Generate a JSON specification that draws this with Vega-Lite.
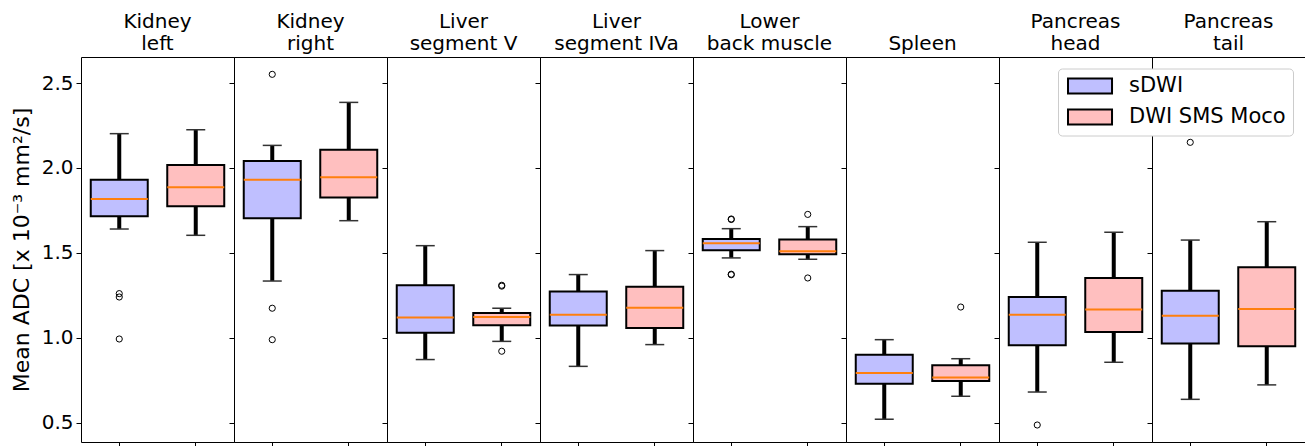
{
  "$schema": "https://vega.github.io/schema/vega-lite/v6.json",
  "padding": {"left": 9, "top": 11, "right": 0, "bottom": 0},
  "bounds": "flush",
  "spacing": 0,
  "background": "white",
  "config": {
    "font": "DejaVu Sans",
    "view": {"stroke": "black", "strokeWidth": 1},
    "title": {"fontSize": 20, "font": "DejaVu Sans", "fontWeight": "normal", "color": "black", "lineHeight": 22, "offset": 3, "anchor": "middle", "baseline": "bottom", "frame": "group"},
    "axisX": {"labels": false, "title": null, "domain": false, "ticks": true, "tickSize": 4, "tickColor": "black"},
    "axisY": {"grid": false, "domain": false, "tickColor": "black", "tickSize": 5, "labelFontSize": 20, "titleFontSize": 22, "labelColor": "black", "titleColor": "black", "titleFontWeight": "normal", "titlePadding": 8, "labelPadding": 3, "labelFont": "DejaVu Sans", "titleFont": "DejaVu Sans"},
    "legend": {
      "orient": "none",
      "legendX": 977,
      "legendY": 11.5,
      "fillColor": "white",
      "strokeColor": "#cccccc",
      "cornerRadius": 4,
      "padding": 7,
      "labelFontSize": 21,
      "labelFont": "DejaVu Sans",
      "labelColor": "black",
      "symbolType": "M-1,-1H4.87V1H-1Z",
      "symbolSize": 225,
      "symbolStrokeColor": "black",
      "symbolStrokeWidth": 2,
      "symbolOpacity": 1,
      "rowPadding": 8,
      "labelOffset": 43
    }
  },
  "data": {
    "values": [
      {"organ": "Kidney left", "method": "sDWI", "lo": 1.641, "q1": 1.716, "med": 1.818, "q3": 1.931, "hi": 2.202},
      {"organ": "Kidney left", "method": "DWI SMS Moco", "lo": 1.604, "q1": 1.775, "med": 1.886, "q3": 2.018, "hi": 2.225},
      {"organ": "Kidney right", "method": "sDWI", "lo": 1.335, "q1": 1.704, "med": 1.931, "q3": 2.041, "hi": 2.133},
      {"organ": "Kidney right", "method": "DWI SMS Moco", "lo": 1.690, "q1": 1.827, "med": 1.945, "q3": 2.108, "hi": 2.386},
      {"organ": "Liver segment V", "method": "sDWI", "lo": 0.873, "q1": 1.031, "med": 1.120, "q3": 1.310, "hi": 1.543},
      {"organ": "Liver segment V", "method": "DWI SMS Moco", "lo": 0.980, "q1": 1.075, "med": 1.124, "q3": 1.147, "hi": 1.175},
      {"organ": "Liver segment IVa", "method": "sDWI", "lo": 0.833, "q1": 1.073, "med": 1.137, "q3": 1.273, "hi": 1.373},
      {"organ": "Liver segment IVa", "method": "DWI SMS Moco", "lo": 0.961, "q1": 1.059, "med": 1.178, "q3": 1.302, "hi": 1.514},
      {"organ": "Lower back muscle", "method": "sDWI", "lo": 1.471, "q1": 1.516, "med": 1.557, "q3": 1.582, "hi": 1.643},
      {"organ": "Lower back muscle", "method": "DWI SMS Moco", "lo": 1.463, "q1": 1.492, "med": 1.510, "q3": 1.580, "hi": 1.655},
      {"organ": "Spleen", "method": "sDWI", "lo": 0.522, "q1": 0.731, "med": 0.794, "q3": 0.902, "hi": 0.990},
      {"organ": "Spleen", "method": "DWI SMS Moco", "lo": 0.657, "q1": 0.747, "med": 0.767, "q3": 0.839, "hi": 0.878},
      {"organ": "Pancreas head", "method": "sDWI", "lo": 0.682, "q1": 0.957, "med": 1.137, "q3": 1.241, "hi": 1.563},
      {"organ": "Pancreas head", "method": "DWI SMS Moco", "lo": 0.857, "q1": 1.035, "med": 1.167, "q3": 1.353, "hi": 1.622},
      {"organ": "Pancreas tail", "method": "sDWI", "lo": 0.639, "q1": 0.967, "med": 1.131, "q3": 1.278, "hi": 1.576},
      {"organ": "Pancreas tail", "method": "DWI SMS Moco", "lo": 0.724, "q1": 0.951, "med": 1.171, "q3": 1.416, "hi": 1.684},
      {"organ": "Kidney left", "method": "sDWI", "out": 1.261},
      {"organ": "Kidney left", "method": "sDWI", "out": 1.241},
      {"organ": "Kidney left", "method": "sDWI", "out": 0.994},
      {"organ": "Kidney right", "method": "sDWI", "out": 2.551},
      {"organ": "Kidney right", "method": "sDWI", "out": 1.175},
      {"organ": "Kidney right", "method": "sDWI", "out": 0.990},
      {"organ": "Liver segment V", "method": "DWI SMS Moco", "out": 1.310},
      {"organ": "Liver segment V", "method": "DWI SMS Moco", "out": 1.305},
      {"organ": "Liver segment V", "method": "DWI SMS Moco", "out": 0.922},
      {"organ": "Lower back muscle", "method": "sDWI", "out": 1.700},
      {"organ": "Lower back muscle", "method": "sDWI", "out": 1.697},
      {"organ": "Lower back muscle", "method": "sDWI", "out": 1.375},
      {"organ": "Lower back muscle", "method": "sDWI", "out": 1.372},
      {"organ": "Lower back muscle", "method": "DWI SMS Moco", "out": 1.727},
      {"organ": "Lower back muscle", "method": "DWI SMS Moco", "out": 1.353},
      {"organ": "Spleen", "method": "DWI SMS Moco", "out": 1.182},
      {"organ": "Pancreas head", "method": "sDWI", "out": 0.488},
      {"organ": "Pancreas tail", "method": "sDWI", "out": 2.151}
    ]
  },
  "resolve": {"scale": {"fill": "shared"}, "legend": {"fill": "shared"}},
  "hconcat": [
    {
      "width": 153, "height": 385,
      "title": {"text": ["Kidney", "left"]},
      "transform": [{"filter": "datum.organ == 'Kidney left'"}],
      "encoding": {"x": {"field": "method", "type": "nominal", "scale": {"domain": ["sDWI", "DWI SMS Moco"], "paddingInner": 0.255, "paddingOuter": 0.1275}}},
      "layer": [
        {"transform": [{"filter": "isValid(datum.q1)"}], "mark": {"type": "rule", "color": "black", "strokeWidth": 4}, "encoding": {"y": {"field": "lo", "type": "quantitative", "scale": {"domain": [0.388, 2.653], "nice": false, "zero": false}, "axis": {"values": [0.5, 1, 1.5, 2, 2.5], "format": ".1f", "title": "Mean ADC [x 10⁻³ mm²/s]"}}, "y2": {"field": "hi"}}},
        {"transform": [{"filter": "isValid(datum.q1)"}], "mark": {"type": "bar", "stroke": "black", "strokeWidth": 2, "opacity": 1}, "encoding": {"y": {"field": "q1", "type": "quantitative"}, "y2": {"field": "q3"}, "fill": {"field": "method", "type": "nominal", "scale": {"domain": ["sDWI", "DWI SMS Moco"], "range": ["#bfbfff", "#ffbfbf"]}, "legend": {"title": null}}}},
        {"transform": [{"filter": "isValid(datum.q1)"}], "mark": {"type": "tick", "orient": "horizontal", "color": "#ff7f0e", "size": 57, "thickness": 2, "opacity": 1}, "encoding": {"y": {"field": "med", "type": "quantitative"}}},
        {"transform": [{"filter": "isValid(datum.q1)"}, {"fold": ["lo", "hi"], "as": ["cap", "capv"]}], "mark": {"type": "tick", "orient": "horizontal", "color": "#333333", "size": 19, "thickness": 1.5, "opacity": 1}, "encoding": {"y": {"field": "capv", "type": "quantitative"}}},
        {"transform": [{"filter": "isValid(datum.out)"}], "mark": {"type": "point", "shape": "circle", "filled": false, "stroke": "black", "strokeWidth": 1, "size": 38, "opacity": 1}, "encoding": {"y": {"field": "out", "type": "quantitative"}}}
      ]
    },
    {
      "width": 153, "height": 385,
      "title": {"text": ["Kidney", "right"]},
      "transform": [{"filter": "datum.organ == 'Kidney right'"}],
      "encoding": {"x": {"field": "method", "type": "nominal", "scale": {"domain": ["sDWI", "DWI SMS Moco"], "paddingInner": 0.255, "paddingOuter": 0.1275}}},
      "layer": [
        {"transform": [{"filter": "isValid(datum.q1)"}], "mark": {"type": "rule", "color": "black", "strokeWidth": 4}, "encoding": {"y": {"field": "lo", "type": "quantitative", "scale": {"domain": [0.388, 2.653], "nice": false, "zero": false}, "axis": {"values": [0.5, 1, 1.5, 2, 2.5], "labels": false, "title": null}}, "y2": {"field": "hi"}}},
        {"transform": [{"filter": "isValid(datum.q1)"}], "mark": {"type": "bar", "stroke": "black", "strokeWidth": 2, "opacity": 1}, "encoding": {"y": {"field": "q1", "type": "quantitative"}, "y2": {"field": "q3"}, "fill": {"field": "method", "type": "nominal", "scale": {"domain": ["sDWI", "DWI SMS Moco"], "range": ["#bfbfff", "#ffbfbf"]}, "legend": {"title": null}}}},
        {"transform": [{"filter": "isValid(datum.q1)"}], "mark": {"type": "tick", "orient": "horizontal", "color": "#ff7f0e", "size": 57, "thickness": 2, "opacity": 1}, "encoding": {"y": {"field": "med", "type": "quantitative"}}},
        {"transform": [{"filter": "isValid(datum.q1)"}, {"fold": ["lo", "hi"], "as": ["cap", "capv"]}], "mark": {"type": "tick", "orient": "horizontal", "color": "#333333", "size": 19, "thickness": 1.5, "opacity": 1}, "encoding": {"y": {"field": "capv", "type": "quantitative"}}},
        {"transform": [{"filter": "isValid(datum.out)"}], "mark": {"type": "point", "shape": "circle", "filled": false, "stroke": "black", "strokeWidth": 1, "size": 38, "opacity": 1}, "encoding": {"y": {"field": "out", "type": "quantitative"}}}
      ]
    },
    {
      "width": 153, "height": 385,
      "title": {"text": ["Liver", "segment V"]},
      "transform": [{"filter": "datum.organ == 'Liver segment V'"}],
      "encoding": {"x": {"field": "method", "type": "nominal", "scale": {"domain": ["sDWI", "DWI SMS Moco"], "paddingInner": 0.255, "paddingOuter": 0.1275}}},
      "layer": [
        {"transform": [{"filter": "isValid(datum.q1)"}], "mark": {"type": "rule", "color": "black", "strokeWidth": 4}, "encoding": {"y": {"field": "lo", "type": "quantitative", "scale": {"domain": [0.388, 2.653], "nice": false, "zero": false}, "axis": {"values": [0.5, 1, 1.5, 2, 2.5], "labels": false, "title": null}}, "y2": {"field": "hi"}}},
        {"transform": [{"filter": "isValid(datum.q1)"}], "mark": {"type": "bar", "stroke": "black", "strokeWidth": 2, "opacity": 1}, "encoding": {"y": {"field": "q1", "type": "quantitative"}, "y2": {"field": "q3"}, "fill": {"field": "method", "type": "nominal", "scale": {"domain": ["sDWI", "DWI SMS Moco"], "range": ["#bfbfff", "#ffbfbf"]}, "legend": {"title": null}}}},
        {"transform": [{"filter": "isValid(datum.q1)"}], "mark": {"type": "tick", "orient": "horizontal", "color": "#ff7f0e", "size": 57, "thickness": 2, "opacity": 1}, "encoding": {"y": {"field": "med", "type": "quantitative"}}},
        {"transform": [{"filter": "isValid(datum.q1)"}, {"fold": ["lo", "hi"], "as": ["cap", "capv"]}], "mark": {"type": "tick", "orient": "horizontal", "color": "#333333", "size": 19, "thickness": 1.5, "opacity": 1}, "encoding": {"y": {"field": "capv", "type": "quantitative"}}},
        {"transform": [{"filter": "isValid(datum.out)"}], "mark": {"type": "point", "shape": "circle", "filled": false, "stroke": "black", "strokeWidth": 1, "size": 38, "opacity": 1}, "encoding": {"y": {"field": "out", "type": "quantitative"}}}
      ]
    },
    {
      "width": 153, "height": 385,
      "title": {"text": ["Liver", "segment IVa"]},
      "transform": [{"filter": "datum.organ == 'Liver segment IVa'"}],
      "encoding": {"x": {"field": "method", "type": "nominal", "scale": {"domain": ["sDWI", "DWI SMS Moco"], "paddingInner": 0.255, "paddingOuter": 0.1275}}},
      "layer": [
        {"transform": [{"filter": "isValid(datum.q1)"}], "mark": {"type": "rule", "color": "black", "strokeWidth": 4}, "encoding": {"y": {"field": "lo", "type": "quantitative", "scale": {"domain": [0.388, 2.653], "nice": false, "zero": false}, "axis": {"values": [0.5, 1, 1.5, 2, 2.5], "labels": false, "title": null}}, "y2": {"field": "hi"}}},
        {"transform": [{"filter": "isValid(datum.q1)"}], "mark": {"type": "bar", "stroke": "black", "strokeWidth": 2, "opacity": 1}, "encoding": {"y": {"field": "q1", "type": "quantitative"}, "y2": {"field": "q3"}, "fill": {"field": "method", "type": "nominal", "scale": {"domain": ["sDWI", "DWI SMS Moco"], "range": ["#bfbfff", "#ffbfbf"]}, "legend": {"title": null}}}},
        {"transform": [{"filter": "isValid(datum.q1)"}], "mark": {"type": "tick", "orient": "horizontal", "color": "#ff7f0e", "size": 57, "thickness": 2, "opacity": 1}, "encoding": {"y": {"field": "med", "type": "quantitative"}}},
        {"transform": [{"filter": "isValid(datum.q1)"}, {"fold": ["lo", "hi"], "as": ["cap", "capv"]}], "mark": {"type": "tick", "orient": "horizontal", "color": "#333333", "size": 19, "thickness": 1.5, "opacity": 1}, "encoding": {"y": {"field": "capv", "type": "quantitative"}}},
        {"transform": [{"filter": "isValid(datum.out)"}], "mark": {"type": "point", "shape": "circle", "filled": false, "stroke": "black", "strokeWidth": 1, "size": 38, "opacity": 1}, "encoding": {"y": {"field": "out", "type": "quantitative"}}}
      ]
    },
    {
      "width": 153, "height": 385,
      "title": {"text": ["Lower", "back muscle"]},
      "transform": [{"filter": "datum.organ == 'Lower back muscle'"}],
      "encoding": {"x": {"field": "method", "type": "nominal", "scale": {"domain": ["sDWI", "DWI SMS Moco"], "paddingInner": 0.255, "paddingOuter": 0.1275}}},
      "layer": [
        {"transform": [{"filter": "isValid(datum.q1)"}], "mark": {"type": "rule", "color": "black", "strokeWidth": 4}, "encoding": {"y": {"field": "lo", "type": "quantitative", "scale": {"domain": [0.388, 2.653], "nice": false, "zero": false}, "axis": {"values": [0.5, 1, 1.5, 2, 2.5], "labels": false, "title": null}}, "y2": {"field": "hi"}}},
        {"transform": [{"filter": "isValid(datum.q1)"}], "mark": {"type": "bar", "stroke": "black", "strokeWidth": 2, "opacity": 1}, "encoding": {"y": {"field": "q1", "type": "quantitative"}, "y2": {"field": "q3"}, "fill": {"field": "method", "type": "nominal", "scale": {"domain": ["sDWI", "DWI SMS Moco"], "range": ["#bfbfff", "#ffbfbf"]}, "legend": {"title": null}}}},
        {"transform": [{"filter": "isValid(datum.q1)"}], "mark": {"type": "tick", "orient": "horizontal", "color": "#ff7f0e", "size": 57, "thickness": 2, "opacity": 1}, "encoding": {"y": {"field": "med", "type": "quantitative"}}},
        {"transform": [{"filter": "isValid(datum.q1)"}, {"fold": ["lo", "hi"], "as": ["cap", "capv"]}], "mark": {"type": "tick", "orient": "horizontal", "color": "#333333", "size": 19, "thickness": 1.5, "opacity": 1}, "encoding": {"y": {"field": "capv", "type": "quantitative"}}},
        {"transform": [{"filter": "isValid(datum.out)"}], "mark": {"type": "point", "shape": "circle", "filled": false, "stroke": "black", "strokeWidth": 1, "size": 38, "opacity": 1}, "encoding": {"y": {"field": "out", "type": "quantitative"}}}
      ]
    },
    {
      "width": 153, "height": 385,
      "title": {"text": "Spleen"},
      "transform": [{"filter": "datum.organ == 'Spleen'"}],
      "encoding": {"x": {"field": "method", "type": "nominal", "scale": {"domain": ["sDWI", "DWI SMS Moco"], "paddingInner": 0.255, "paddingOuter": 0.1275}}},
      "layer": [
        {"transform": [{"filter": "isValid(datum.q1)"}], "mark": {"type": "rule", "color": "black", "strokeWidth": 4}, "encoding": {"y": {"field": "lo", "type": "quantitative", "scale": {"domain": [0.388, 2.653], "nice": false, "zero": false}, "axis": {"values": [0.5, 1, 1.5, 2, 2.5], "labels": false, "title": null}}, "y2": {"field": "hi"}}},
        {"transform": [{"filter": "isValid(datum.q1)"}], "mark": {"type": "bar", "stroke": "black", "strokeWidth": 2, "opacity": 1}, "encoding": {"y": {"field": "q1", "type": "quantitative"}, "y2": {"field": "q3"}, "fill": {"field": "method", "type": "nominal", "scale": {"domain": ["sDWI", "DWI SMS Moco"], "range": ["#bfbfff", "#ffbfbf"]}, "legend": {"title": null}}}},
        {"transform": [{"filter": "isValid(datum.q1)"}], "mark": {"type": "tick", "orient": "horizontal", "color": "#ff7f0e", "size": 57, "thickness": 2, "opacity": 1}, "encoding": {"y": {"field": "med", "type": "quantitative"}}},
        {"transform": [{"filter": "isValid(datum.q1)"}, {"fold": ["lo", "hi"], "as": ["cap", "capv"]}], "mark": {"type": "tick", "orient": "horizontal", "color": "#333333", "size": 19, "thickness": 1.5, "opacity": 1}, "encoding": {"y": {"field": "capv", "type": "quantitative"}}},
        {"transform": [{"filter": "isValid(datum.out)"}], "mark": {"type": "point", "shape": "circle", "filled": false, "stroke": "black", "strokeWidth": 1, "size": 38, "opacity": 1}, "encoding": {"y": {"field": "out", "type": "quantitative"}}}
      ]
    },
    {
      "width": 153, "height": 385,
      "title": {"text": ["Pancreas", "head"]},
      "transform": [{"filter": "datum.organ == 'Pancreas head'"}],
      "encoding": {"x": {"field": "method", "type": "nominal", "scale": {"domain": ["sDWI", "DWI SMS Moco"], "paddingInner": 0.255, "paddingOuter": 0.1275}}},
      "layer": [
        {"transform": [{"filter": "isValid(datum.q1)"}], "mark": {"type": "rule", "color": "black", "strokeWidth": 4}, "encoding": {"y": {"field": "lo", "type": "quantitative", "scale": {"domain": [0.388, 2.653], "nice": false, "zero": false}, "axis": {"values": [0.5, 1, 1.5, 2, 2.5], "labels": false, "title": null}}, "y2": {"field": "hi"}}},
        {"transform": [{"filter": "isValid(datum.q1)"}], "mark": {"type": "bar", "stroke": "black", "strokeWidth": 2, "opacity": 1}, "encoding": {"y": {"field": "q1", "type": "quantitative"}, "y2": {"field": "q3"}, "fill": {"field": "method", "type": "nominal", "scale": {"domain": ["sDWI", "DWI SMS Moco"], "range": ["#bfbfff", "#ffbfbf"]}, "legend": {"title": null}}}},
        {"transform": [{"filter": "isValid(datum.q1)"}], "mark": {"type": "tick", "orient": "horizontal", "color": "#ff7f0e", "size": 57, "thickness": 2, "opacity": 1}, "encoding": {"y": {"field": "med", "type": "quantitative"}}},
        {"transform": [{"filter": "isValid(datum.q1)"}, {"fold": ["lo", "hi"], "as": ["cap", "capv"]}], "mark": {"type": "tick", "orient": "horizontal", "color": "#333333", "size": 19, "thickness": 1.5, "opacity": 1}, "encoding": {"y": {"field": "capv", "type": "quantitative"}}},
        {"transform": [{"filter": "isValid(datum.out)"}], "mark": {"type": "point", "shape": "circle", "filled": false, "stroke": "black", "strokeWidth": 1, "size": 38, "opacity": 1}, "encoding": {"y": {"field": "out", "type": "quantitative"}}}
      ]
    },
    {
      "width": 153, "height": 385,
      "title": {"text": ["Pancreas", "tail"]},
      "transform": [{"filter": "datum.organ == 'Pancreas tail'"}],
      "encoding": {"x": {"field": "method", "type": "nominal", "scale": {"domain": ["sDWI", "DWI SMS Moco"], "paddingInner": 0.255, "paddingOuter": 0.1275}}},
      "layer": [
        {"transform": [{"filter": "isValid(datum.q1)"}], "mark": {"type": "rule", "color": "black", "strokeWidth": 4}, "encoding": {"y": {"field": "lo", "type": "quantitative", "scale": {"domain": [0.388, 2.653], "nice": false, "zero": false}, "axis": {"values": [0.5, 1, 1.5, 2, 2.5], "labels": false, "title": null}}, "y2": {"field": "hi"}}},
        {"transform": [{"filter": "isValid(datum.q1)"}], "mark": {"type": "bar", "stroke": "black", "strokeWidth": 2, "opacity": 1}, "encoding": {"y": {"field": "q1", "type": "quantitative"}, "y2": {"field": "q3"}, "fill": {"field": "method", "type": "nominal", "scale": {"domain": ["sDWI", "DWI SMS Moco"], "range": ["#bfbfff", "#ffbfbf"]}, "legend": {"title": null}}}},
        {"transform": [{"filter": "isValid(datum.q1)"}], "mark": {"type": "tick", "orient": "horizontal", "color": "#ff7f0e", "size": 57, "thickness": 2, "opacity": 1}, "encoding": {"y": {"field": "med", "type": "quantitative"}}},
        {"transform": [{"filter": "isValid(datum.q1)"}, {"fold": ["lo", "hi"], "as": ["cap", "capv"]}], "mark": {"type": "tick", "orient": "horizontal", "color": "#333333", "size": 19, "thickness": 1.5, "opacity": 1}, "encoding": {"y": {"field": "capv", "type": "quantitative"}}},
        {"transform": [{"filter": "isValid(datum.out)"}], "mark": {"type": "point", "shape": "circle", "filled": false, "stroke": "black", "strokeWidth": 1, "size": 38, "opacity": 1}, "encoding": {"y": {"field": "out", "type": "quantitative"}}}
      ]
    }
  ]
}
